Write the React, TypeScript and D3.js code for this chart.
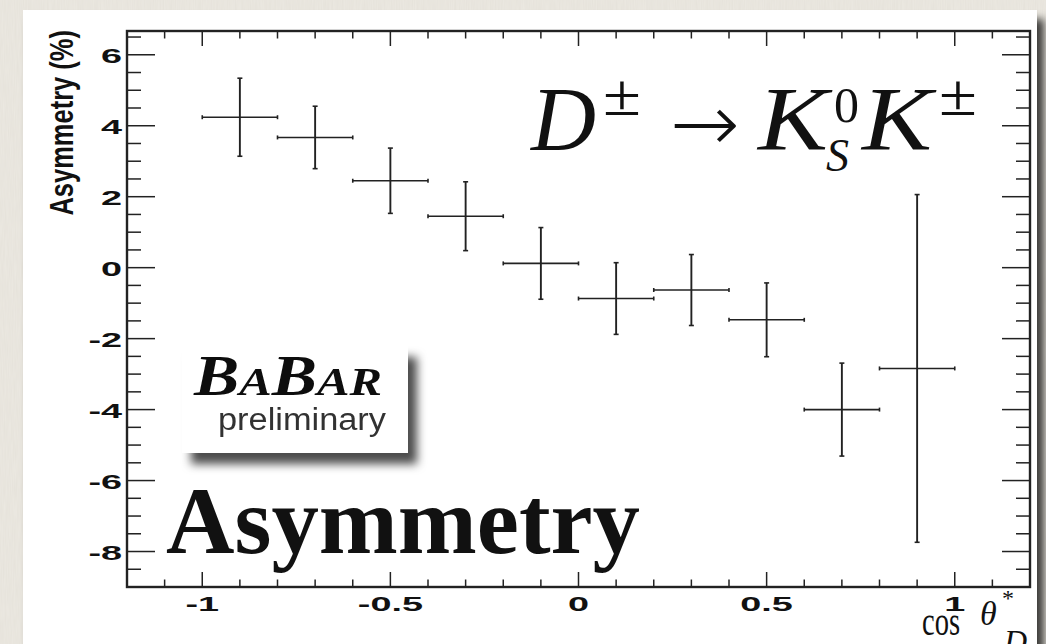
import React from "react";
import * as d3 from "d3";

// cos(theta*_D) bin centres and half-widths
const binCenters = [-0.9, -0.7, -0.5, -0.3, -0.1, 0.1, 0.3, 0.5, 0.7, 0.9];
const binHalfWidths = [0.1, 0.1, 0.1, 0.1, 0.1, 0.1, 0.1, 0.1, 0.1, 0.1];
// measured asymmetry (%) and its uncertainty
const asymmetry = [4.24, 3.67, 2.45, 1.45, 0.12, -0.87, -0.63, -1.47, -4.0, -2.84];
const asymmetryErr = [1.1, 0.88, 0.92, 0.97, 1.01, 1.01, 1.0, 1.04, 1.31, 4.9];

const xTickValues = [-1, -0.5, 0, 0.5, 1];
const xTickLabels = ["-1", "-0.5", "0", "0.5", "1"];
const yTickValues = [-8, -6, -4, -2, 0, 2, 4, 6];
const yTickLabels = ["-8", "-6", "-4", "-2", "0", "2", "4", "6"];

const W = 1046;
const H = 644;
const frame = { left: 127, right: 1030, top: 31, bottom: 587 };
const ink = "#222";
const sans = "'Liberation Sans', Arial, Helvetica, sans-serif";
const serif = "'Liberation Serif', 'Times New Roman', serif";

export default function App() {
  const x = d3.scaleLinear().domain([-1.2, 1.2]).range([frame.left, frame.right]);
  const y = d3.scaleLinear().domain([-9, 6.67]).range([frame.bottom, frame.top]);

  const xMinor = d3.range(-11, 12).map((i) => i / 10).filter((v) => Math.abs((v * 2) % 1) > 1e-6);
  const yMinor = d3.range(-18, 14).map((i) => i / 2).filter((v) => Math.abs(v % 2) > 1e-6);

  const tickStroke = { stroke: ink, strokeWidth: 1.5 };

  return (
    <svg
      width={W}
      height={H}
      style={{ position: "absolute", left: 0, top: 0, display: "block" }}
    >
      <defs>
        <filter id="paper" x="0" y="0" width="100%" height="100%">
          <feTurbulence type="fractalNoise" baseFrequency="0.9 0.05" numOctaves={2} seed={3} result="n" />
          <feColorMatrix
            in="n"
            type="matrix"
            values="0 0 0 0 0.55  0 0 0 0 0.52  0 0 0 0 0.45  0 0 0 0.18 0"
          />
        </filter>
        <filter id="panelShadow" x="-5%" y="-5%" width="115%" height="120%">
          <feDropShadow dx={7} dy={9} stdDeviation={4} floodColor="#000" floodOpacity={0.75} />
        </filter>
        <filter id="logoShadow" x="-20%" y="-20%" width="150%" height="160%">
          <feDropShadow dx={9} dy={11} stdDeviation={5} floodColor="#000" floodOpacity={0.7} />
        </filter>
        <filter id="soft">
          <feGaussianBlur stdDeviation={0.45} />
        </filter>
      </defs>

      {/* paper background */}
      <rect x={0} y={0} width={W} height={H} fill="#ece9e2" />
      <rect x={0} y={0} width={W} height={H} filter="url(#paper)" />

      {/* white canvas */}
      <rect x={23} y={10} width={1014} height={H + 20} fill="#fff" filter="url(#panelShadow)" />

      {/* error bars */}
      <g stroke={ink} strokeWidth={1.6} fill="none">
        {binCenters.map((c, i) => {
          const cx = x(c);
          const cy = y(asymmetry[i]);
          const x0 = x(c - binHalfWidths[i]);
          const x1 = x(c + binHalfWidths[i]);
          const y0 = y(asymmetry[i] + asymmetryErr[i]);
          const y1 = y(asymmetry[i] - asymmetryErr[i]);
          return (
            <g key={i}>
              <line x1={x0} x2={x1} y1={cy} y2={cy} />
              <line x1={cx} x2={cx} y1={y0} y2={y1} strokeWidth={1.9} />
              <line x1={x0} x2={x0} y1={cy - 2} y2={cy + 2} />
              <line x1={x1} x2={x1} y1={cy - 2} y2={cy + 2} />
              <line x1={cx - 2.5} x2={cx + 2.5} y1={y0} y2={y0} />
              <line x1={cx - 2.5} x2={cx + 2.5} y1={y1} y2={y1} />
            </g>
          );
        })}
      </g>

      {/* ticks */}
      <g>
        {xMinor.map((v) => (
          <g key={"xm" + v}>
            <line x1={x(v)} x2={x(v)} y1={frame.bottom} y2={frame.bottom - 7.5} {...tickStroke} />
            <line x1={x(v)} x2={x(v)} y1={frame.top} y2={frame.top + 7.5} {...tickStroke} />
          </g>
        ))}
        {xTickValues.map((v) => (
          <g key={"xM" + v}>
            <line x1={x(v)} x2={x(v)} y1={frame.bottom} y2={frame.bottom - 15} {...tickStroke} />
            <line x1={x(v)} x2={x(v)} y1={frame.top} y2={frame.top + 15} {...tickStroke} />
          </g>
        ))}
        {yMinor.map((v) => (
          <g key={"ym" + v}>
            <line x1={frame.left} x2={frame.left + 14} y1={y(v)} y2={y(v)} {...tickStroke} />
            <line x1={frame.right} x2={frame.right - 14} y1={y(v)} y2={y(v)} {...tickStroke} />
          </g>
        ))}
        {yTickValues.map((v) => (
          <g key={"yM" + v}>
            <line x1={frame.left} x2={frame.left + 28} y1={y(v)} y2={y(v)} {...tickStroke} />
            <line x1={frame.right} x2={frame.right - 28} y1={y(v)} y2={y(v)} {...tickStroke} />
          </g>
        ))}
      </g>

      {/* frame */}
      <rect
        x={frame.left}
        y={frame.top}
        width={frame.right - frame.left}
        height={frame.bottom - frame.top}
        fill="none"
        stroke={ink}
        strokeWidth={2.4}
      />

      {/* tick labels */}
      <g fontFamily={sans} fontWeight="bold" fontSize={21} fill="#111">
        {xTickValues.map((v, i) => (
          <g key={"xl" + v} transform={`translate(${x(v)},${611}) scale(1.8,1)`}>
            <text textAnchor="middle">{xTickLabels[i]}</text>
          </g>
        ))}
        {yTickValues.map((v, i) => (
          <g key={"yl" + v} transform={`translate(122,${y(v) + 8.6}) scale(1.8,1)`}>
            <text textAnchor="end">{yTickLabels[i]}</text>
          </g>
        ))}
      </g>

      {/* y axis title */}
      <g transform={`translate(73,30) rotate(-90) scale(1,1.3)`}>
        <text
          textAnchor="end"
          fontFamily={sans}
          fontWeight="bold"
          fontSize={25.5}
          fill="#111"
        >
          Asymmetry (%)
        </text>
      </g>

      {/* x axis title */}
      <g fontFamily={serif} fill="#111">
        <g transform="translate(922,635) scale(0.68,1)">
          <text x={0} fontSize={42}>cos</text>
        </g>
        <text x={980} y={625} fontSize={34} fontStyle="italic">θ</text>
        <text x={1002} y={606} fontSize={24}>*</text>
        <text x={1004} y={652} fontSize={32} fontStyle="italic">D</text>
      </g>

      {/* decay label */}
      <g fontFamily={serif} fill="#111">
        <text x={531} y={150} fontSize={90} fontStyle="italic">D</text>
        <text x={603} y={115} fontSize={60} textLength={38} lengthAdjust="spacingAndGlyphs">±</text>
        <text
          x={670}
          y={151}
          fontSize={80}
          fontWeight={200}
          fontFamily="'DejaVu Sans', sans-serif"
          textLength={70}
          lengthAdjust="spacingAndGlyphs"
        >
          →
        </text>
        <text x={758} y={150} fontSize={90} fontStyle="italic" textLength={70} lengthAdjust="spacingAndGlyphs">K</text>
        <text x={834} y={122} fontSize={50}>0</text>
        <text x={826} y={171} fontSize={46} fontStyle="italic">S</text>
        <text x={862} y={150} fontSize={90} fontStyle="italic" textLength={70} lengthAdjust="spacingAndGlyphs">K</text>
        <text x={939} y={115} fontSize={60} textLength={38} lengthAdjust="spacingAndGlyphs">±</text>
      </g>

      {/* big label */}
      <text
        x={166}
        y={553}
        fontFamily={serif}
        fontWeight="bold"
        fontSize={95}
        fill="#111"
        textLength={474}
        lengthAdjust="spacingAndGlyphs"
      >
        Asymmetry
      </text>

      {/* experiment logo */}
      <g>
        <rect x={182} y={346} width={226} height={107} fill="#fff" filter="url(#logoShadow)" />
        <g filter="url(#soft)">
          <text
            x={194}
            y={395}
            fontFamily={serif}
            fontWeight="bold"
            fontStyle="italic"
            fill="#111"
            textLength={188}
            lengthAdjust="spacingAndGlyphs"
          >
            <tspan fontSize={57}>B</tspan>
            <tspan fontSize={41}>A</tspan>
            <tspan fontSize={57}>B</tspan>
            <tspan fontSize={41}>AR</tspan>
          </text>
          <text
            x={218}
            y={430}
            fontFamily={sans}
            fontSize={31}
            fill="#333"
            textLength={168}
            lengthAdjust="spacingAndGlyphs"
          >
            preliminary
          </text>
        </g>
      </g>
    </svg>
  );
}
